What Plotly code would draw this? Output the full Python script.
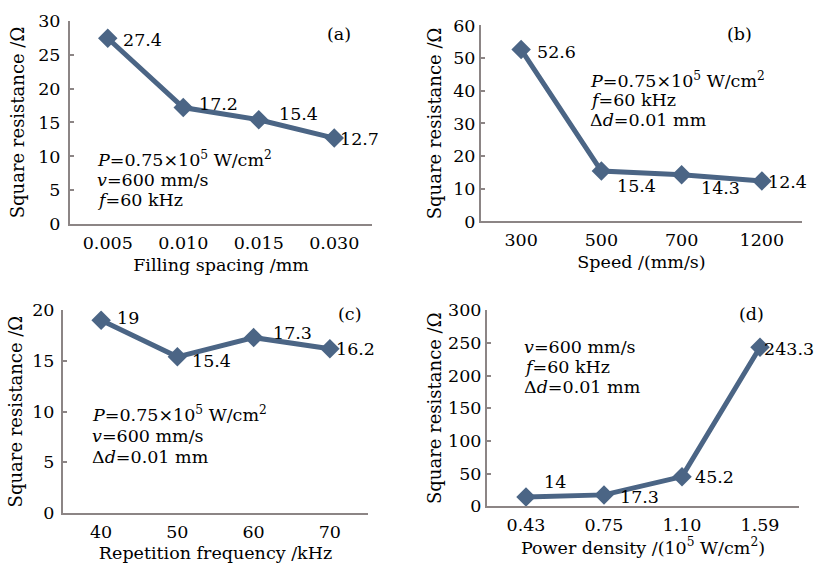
import plotly.graph_objects as go

# ---- data -------------------------------------------------------------
spacing_cats = ["0.005", "0.010", "0.015", "0.030"]
spacing_res = [27.4, 17.2, 15.4, 12.7]

speed_cats = ["300", "500", "700", "1200"]
speed_res = [52.6, 15.4, 14.3, 12.4]

freq_cats = ["40", "50", "60", "70"]
freq_res = [19, 15.4, 17.3, 16.2]

power_cats = ["0.43", "0.75", "1.10", "1.59"]
power_res = [14, 17.3, 45.2, 243.3]

# ---- styling ----------------------------------------------------------
W, H = 814, 577
FONT = "DejaVu Serif"
LINE = "#4b6585"
AXIS = "#8c8585"
FS = 17.5

# label offsets (px right, px up) for each point's value label
offs_a = [(13, -2), (14, 4), (18, 6), (4, -1)]
offs_b = [(14, -2), (14, -15), (17, -13), (4, -1)]
offs_c = [(14, 2), (13, -4), (17, 5), (4, 0)]
offs_d = [(16, 15), (14, -2), (11, 0), (2, -2)]


def px_x(p):
    return p / W


def px_y(p):
    return 1 - p / H


panels = [
    dict(cats=spacing_cats, vals=spacing_res, offs=offs_a, xd=(70, 372), yd=(222, 11),
         yr=[0, 30], dt=5, xt="Filling spacing /mm", tag="(a)", tagpos=(339, 25),
         notes=["<i>P</i>=0.75×10<sup>5</sup> W/cm<sup>2</sup>",
                "<i>v</i>=600 mm/s", "<i>f</i>=60 kHz"],
         notepos=(95, [154, 176, 197]), ystand=4, ytstand=9),
    dict(cats=speed_cats, vals=speed_res, offs=offs_b, xd=(481, 802), yd=(219, 16),
         yr=[0, 60], dt=10, xt="Speed /(mm/s)", tag="(b)", tagpos=(739, 25),
         notes=["<i>P</i>=0.75×10<sup>5</sup> W/cm<sup>2</sup>",
                "<i>f</i>=60 kHz", "Δ<i>d</i>=0.01 mm"],
         notepos=(588, [72, 93, 114]), ystand=0, ytstand=7),
    dict(cats=freq_cats, vals=freq_res, offs=offs_c, xd=(63, 368), yd=(521, 311),
         yr=[0, 20], dt=5, xt="Repetition frequency /kHz", tag="(c)", tagpos=(349, 315),
         notes=["<i>P</i>=0.75×10<sup>5</sup> W/cm<sup>2</sup>",
                "<i>v</i>=600 mm/s", "Δ<i>d</i>=0.01 mm"],
         notepos=(90, [418, 441, 463]), ystand=3, ytstand=5),
    dict(cats=power_cats, vals=power_res, offs=offs_d, xd=(487, 799), yd=(514, 311),
         yr=[0, 300], dt=50, xt="Power density /(10<sup>5</sup> W/cm<sup>2</sup>)",
         tag="(d)", tagpos=(751, 315),
         notes=["<i>v</i>=600 mm/s", "<i>f</i>=60 kHz", "Δ<i>d</i>=0.01 mm"],
         notepos=(522, [349, 370, 391]), ystand=0, ytstand=2),
]

fig = go.Figure()
annotations = []
layout = {}

for i, p in enumerate(panels, start=1):
    xa = "x" if i == 1 else f"x{i}"
    ya = "y" if i == 1 else f"y{i}"
    xkey = "xaxis" if i == 1 else f"xaxis{i}"
    ykey = "yaxis" if i == 1 else f"yaxis{i}"

    fig.add_trace(go.Scatter(
        x=p["cats"], y=p["vals"], xaxis=xa, yaxis=ya, mode="lines+markers",
        line=dict(color=LINE, width=5),
        marker=dict(symbol="diamond", size=15, color=LINE),
        showlegend=False, hoverinfo="x+y",
    ))

    # value labels, placed by category index on the category axis
    for k, (v, (dx, dy)) in enumerate(zip(p["vals"], p["offs"])):
        annotations.append(dict(
            x=k, y=v, xref=xa, yref=ya, text=f"{v:g}", showarrow=False,
            xanchor="left", yanchor="middle", xshift=dx, yshift=dy,
            font=dict(family=FONT, size=FS, color="black"),
        ))

    layout[xkey] = dict(
        domain=[px_x(p["xd"][0]), px_x(p["xd"][1])], anchor=ya,
        type="category", range=[-0.5, 3.5],
        showline=True, linecolor=AXIS, linewidth=2, ticks="",
        showgrid=False, zeroline=False, ticklabelstandoff=2,
        tickfont=dict(family=FONT, size=FS, color="black"),
        title=dict(text=p["xt"], font=dict(family=FONT, size=FS, color="black"),
                   standoff=6),
        fixedrange=True,
    )
    layout[ykey] = dict(
        domain=[px_y(p["yd"][0]), px_y(p["yd"][1])], anchor=xa,
        range=p["yr"], dtick=p["dt"], tick0=0,
        showline=True, linecolor=AXIS, linewidth=2,
        ticks="inside", ticklen=4, tickcolor=AXIS, tickwidth=2,
        showgrid=False, zeroline=False,
        ticklabelstandoff=p["ystand"],
        tickfont=dict(family=FONT, size=FS, color="black"),
        title=dict(text="Square resistance /Ω",
                   font=dict(family=FONT, size=18, color="black"),
                   standoff=p["ytstand"]),
        fixedrange=True,
    )

    # panel tag
    annotations.append(dict(
        x=px_x(p["tagpos"][0]), y=px_y(p["tagpos"][1]), xref="paper", yref="paper",
        text=p["tag"], showarrow=False, xanchor="center", yanchor="middle",
        font=dict(family=FONT, size=FS, color="black"),
    ))

    # parameter notes
    nx, nys = p["notepos"]
    for t, ny in zip(p["notes"], nys):
        annotations.append(dict(
            x=px_x(nx), y=px_y(ny), xref="paper", yref="paper", text=t,
            showarrow=False, xanchor="left", yanchor="middle",
            font=dict(family=FONT, size=FS, color="black"),
        ))

fig.update_layout(
    width=W, height=H, margin=dict(l=0, r=0, t=0, b=0),
    paper_bgcolor="white", plot_bgcolor="white",
    annotations=annotations, **layout,
)

fig.write_html("out.html", config={"displayModeBar": False})
